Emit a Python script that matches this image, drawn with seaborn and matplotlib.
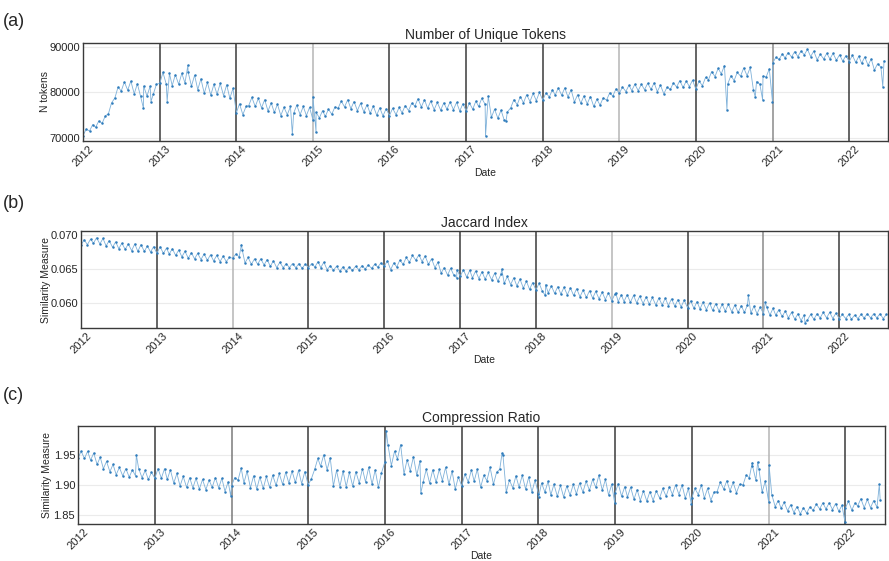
import pandas as pd
import matplotlib
matplotlib.use('Agg')
import matplotlib.pyplot as plt
import matplotlib.dates as mdates
import seaborn as sns

# valores: faixa mensal (mínimo / máximo) de cada série, jan/2012 em diante
tok_lo = [70500, 71500, 72300, 73200, 75300, 78800, 80300, 80500, 79700, 79200, 79200, 79600,
          82000, 81800, 81500, 81800, 82100, 81400, 80600, 79800, 79400, 79600, 79300, 78700,
          75500, 75100, 77100, 76900, 76600, 75900, 75600, 74900, 75100, 75400, 75100, 74900,
          74000, 74400, 74700, 75200, 76500, 76800, 76400, 76000, 75700, 75400, 75000, 74800,
          74900, 75100, 75500, 76000, 77000, 76800, 76500, 76200, 76100, 76300, 76200, 75900,
          75900, 76300, 76900, 77400, 74500, 74300, 73900, 76600, 77300, 77700, 78000, 78200,
          78300, 79000, 79400, 79400, 79000, 77900, 77600, 77500, 76900, 77200, 78300, 79200,
          79800, 80200, 80400, 80400, 80600, 80700, 80200, 79700, 80700, 81200, 81100, 81300,
          80700, 81500, 82800, 83500, 84100, 81900, 82600, 83600, 83700, 80600, 81800, 83400,
          86500, 87300, 87600, 87800, 87900, 88300, 87900, 87200, 87400, 87400, 87100, 86900,
          86800, 86600, 86400, 86000, 84900, 85600]
tok_hi = [71900, 72900, 73700, 74800, 77700, 81200, 82300, 82500, 81900, 81400, 81400, 81800,
          84400, 84200, 83900, 84200, 84500, 83800, 83000, 82200, 81800, 82000, 81700, 80900,
          77500, 76900, 78900, 78700, 78400, 77700, 77400, 76700, 76900, 77200, 76900, 76700,
          75600, 76000, 76300, 76800, 78100, 78400, 78000, 77600, 77300, 77000, 76600, 76400,
          76500, 76700, 77100, 77600, 78600, 78400, 78100, 77800, 77700, 77900, 77800, 77500,
          77700, 78100, 78700, 79200, 76300, 76100, 75700, 78400, 79100, 79500, 79800, 80000,
          79900, 80600, 81000, 81000, 80600, 79500, 79200, 79100, 78500, 78800, 79900, 80800,
          81200, 81600, 81800, 81800, 82000, 82100, 81600, 81100, 82100, 82600, 82500, 82700,
          82500, 83300, 84600, 85300, 85900, 83700, 84400, 85400, 85500, 82400, 83600, 85200,
          87700, 88500, 88800, 89000, 89100, 89500, 89100, 88400, 88600, 88600, 88300, 88100,
          88200, 88000, 87800, 87400, 86300, 87000]
tok_out_dates = ['2012-10-15', '2012-11-20', '2013-02-05', '2013-05-15', '2014-09-25', '2015-01-01',
                 '2015-01-16', '2017-04-03', '2017-07-10', '2020-05-28', '2020-10-10', '2020-11-14',
                 '2020-12-31', '2022-06-10']
tok_out_vals = [76500, 78000, 78000, 86000, 70800, 79100, 71200, 70400, 73800, 76200, 79000, 78400,
                78000, 81300]

jac_lo = [0.0685, 0.0686, 0.0688, 0.0687, 0.0684, 0.0682, 0.0680, 0.0679, 0.0677, 0.0676, 0.0676, 0.0675,
          0.0673, 0.0673, 0.0672, 0.0670, 0.0668, 0.0666, 0.0665, 0.0664, 0.0663, 0.0662, 0.0661, 0.0661,
          0.0666, 0.0668, 0.0659, 0.0657, 0.0657, 0.0656, 0.0654, 0.0652, 0.0652, 0.0652, 0.0652, 0.0651,
          0.0652, 0.0653, 0.0652, 0.0649, 0.0648, 0.0647, 0.0647, 0.0648, 0.0649, 0.0650, 0.0651, 0.0653,
          0.0654, 0.0649, 0.0653, 0.0657, 0.0660, 0.0663, 0.0661, 0.0657, 0.0652, 0.0644, 0.0641, 0.0641,
          0.0639, 0.0638, 0.0637, 0.0636, 0.0635, 0.0634, 0.0632, 0.0629, 0.0627, 0.0625, 0.0622, 0.0620,
          0.0619, 0.0617, 0.0615, 0.0614, 0.0613, 0.0612, 0.0611, 0.0609, 0.0608, 0.0607, 0.0606, 0.0605,
          0.0603, 0.0602, 0.0602, 0.0601, 0.0600, 0.0599, 0.0598, 0.0597, 0.0597, 0.0596, 0.0595, 0.0594,
          0.0593, 0.0592, 0.0591, 0.0590, 0.0589, 0.0588, 0.0588, 0.0587, 0.0586, 0.0586, 0.0585, 0.0584,
          0.0584, 0.0582, 0.0582, 0.0580, 0.0578, 0.0576, 0.0574, 0.0575, 0.0576, 0.0578, 0.0578, 0.0577,
          0.0577, 0.0577, 0.0576, 0.0577, 0.0578, 0.0578, 0.0578, 0.0577]
jac_hi = [0.0693, 0.0694, 0.0696, 0.0695, 0.0692, 0.0690, 0.0688, 0.0687, 0.0687, 0.0686, 0.0684, 0.0683,
          0.0683, 0.0681, 0.0680, 0.0678, 0.0676, 0.0674, 0.0673, 0.0672, 0.0671, 0.0670, 0.0669, 0.0667,
          0.0672, 0.0678, 0.0667, 0.0665, 0.0665, 0.0664, 0.0662, 0.0660, 0.0658, 0.0658, 0.0658, 0.0657,
          0.0658, 0.0661, 0.0660, 0.0655, 0.0654, 0.0653, 0.0653, 0.0654, 0.0655, 0.0656, 0.0657, 0.0659,
          0.0662, 0.0659, 0.0663, 0.0667, 0.0670, 0.0671, 0.0669, 0.0665, 0.0660, 0.0652, 0.0651, 0.0649,
          0.0649, 0.0648, 0.0647, 0.0646, 0.0645, 0.0644, 0.0642, 0.0639, 0.0637, 0.0635, 0.0632, 0.0630,
          0.0629, 0.0627, 0.0625, 0.0624, 0.0623, 0.0622, 0.0621, 0.0619, 0.0618, 0.0617, 0.0616, 0.0615,
          0.0613, 0.0612, 0.0612, 0.0611, 0.0610, 0.0609, 0.0608, 0.0607, 0.0607, 0.0606, 0.0605, 0.0604,
          0.0603, 0.0602, 0.0601, 0.0600, 0.0599, 0.0598, 0.0598, 0.0597, 0.0596, 0.0597, 0.0595, 0.0594,
          0.0594, 0.0592, 0.0590, 0.0588, 0.0586, 0.0584, 0.0582, 0.0583, 0.0584, 0.0586, 0.0586, 0.0585,
          0.0583, 0.0583, 0.0582, 0.0583, 0.0584, 0.0584, 0.0584, 0.0583]
jac_out_dates = ['2014-02-12', '2016-12-15', '2017-07-20', '2018-02-15', '2019-01-20', '2020-10-20',
                 '2021-01-10', '2021-07-20']
jac_out_vals = [0.0686, 0.0637, 0.0650, 0.0611, 0.0615, 0.0611, 0.0601, 0.0571]

comp_lo = [1.944, 1.944, 1.941, 1.934, 1.927, 1.922, 1.917, 1.915, 1.913, 1.915, 1.912, 1.909,
           1.911, 1.911, 1.909, 1.903, 1.898, 1.896, 1.895, 1.893, 1.892, 1.896, 1.895, 1.889,
           1.898, 1.908, 1.903, 1.895, 1.893, 1.894, 1.896, 1.899, 1.901, 1.903, 1.904, 1.902,
           1.900, 1.926, 1.931, 1.925, 1.898, 1.897, 1.897, 1.898, 1.903, 1.905, 1.901, 1.896,
           1.938, 1.932, 1.943, 1.918, 1.923, 1.916, 1.904, 1.903, 1.904, 1.907, 1.901, 1.893,
           1.898, 1.905, 1.906, 1.896, 1.907, 1.901, 1.926, 1.888, 1.895, 1.896, 1.893, 1.888,
           1.885, 1.888, 1.883, 1.881, 1.880, 1.883, 1.885, 1.888, 1.891, 1.896, 1.891, 1.883,
           1.886, 1.881, 1.880, 1.876, 1.874, 1.873, 1.874, 1.878, 1.881, 1.884, 1.884, 1.878,
           1.878, 1.884, 1.878, 1.874, 1.889, 1.893, 1.890, 1.887, 1.900, 1.912, 1.908, 1.888,
           1.872, 1.864, 1.861, 1.857, 1.854, 1.852, 1.853, 1.858, 1.860, 1.860, 1.859, 1.856,
           1.861, 1.858, 1.865, 1.862, 1.862, 1.863]
comp_hi = [1.956, 1.956, 1.953, 1.946, 1.939, 1.934, 1.929, 1.927, 1.925, 1.927, 1.924, 1.921,
           1.927, 1.927, 1.925, 1.919, 1.914, 1.912, 1.911, 1.909, 1.908, 1.912, 1.911, 1.905,
           1.912, 1.928, 1.923, 1.915, 1.913, 1.914, 1.916, 1.919, 1.921, 1.923, 1.924, 1.922,
           1.910, 1.944, 1.950, 1.945, 1.924, 1.923, 1.921, 1.922, 1.927, 1.929, 1.925, 1.920,
           1.966, 1.956, 1.967, 1.942, 1.947, 1.940, 1.926, 1.925, 1.926, 1.929, 1.923, 1.913,
           1.918, 1.925, 1.926, 1.916, 1.929, 1.921, 1.950, 1.908, 1.915, 1.916, 1.913, 1.908,
           1.903, 1.906, 1.901, 1.899, 1.898, 1.901, 1.903, 1.906, 1.909, 1.916, 1.909, 1.901,
           1.902, 1.897, 1.896, 1.892, 1.890, 1.889, 1.890, 1.894, 1.897, 1.900, 1.900, 1.894,
           1.894, 1.900, 1.894, 1.888, 1.905, 1.907, 1.904, 1.901, 1.916, 1.932, 1.926, 1.906,
           1.884, 1.874, 1.871, 1.867, 1.864, 1.862, 1.863, 1.868, 1.870, 1.870, 1.869, 1.866,
           1.873, 1.870, 1.877, 1.876, 1.874, 1.875]
comp_out_dates = ['2012-10-05', '2013-12-28', '2016-01-08', '2016-06-20', '2017-07-12', '2018-01-02',
                  '2018-12-30', '2019-12-30', '2020-10-15', '2020-11-10', '2021-01-03', '2021-12-30',
                  '2022-06-12']
comp_out_vals = [1.950, 1.882, 1.989, 1.886, 1.953, 1.880, 1.870, 1.868, 1.937, 1.938, 1.933, 1.839,
                 1.901]


def monta(lo, hi, out_d, out_v):
    meses = pd.date_range('2012-01-01', periods=len(lo), freq='MS')
    datas = list(meses) + list(meses + pd.Timedelta(days=15)) + list(pd.to_datetime(out_d))
    valores = list(lo) + list(hi) + list(out_v)
    return pd.DataFrame({'Date': datas, 'valor': valores}).sort_values('Date')


sns.set_theme(style='white')
plt.rcParams['font.family'] = ['Liberation Sans', 'DejaVu Sans']
plt.rcParams['xtick.major.pad'] = 2
plt.rcParams['ytick.major.pad'] = 2
plt.rcParams['xtick.major.size'] = 0
plt.rcParams['ytick.major.size'] = 0

fig = plt.figure(figsize=(8.89, 5.61), dpi=100)

paineis = [
    # rotulo, titulo, ylabel, dados, posicao, xlim fim, ylim, yticks, formato, anos claros, y do rotulo, x do ylabel
    ('(a)', 'Number of Unique Tokens', 'N tokens', monta(tok_lo, tok_hi, tok_out_dates, tok_out_vals),
     [0.0934, 0.7487, 0.9055, 0.1747], '2022-07-05', (69300, 90900), [70000, 80000, 90000], '{:.0f}',
     {2015: '#b5b5b5', 2019: '#b5b5b5', 2021: '#8a8a8a'}, 13, -0.041),
    ('(b)', 'Jaccard Index', 'Similarity Measure', monta(jac_lo, jac_hi, jac_out_dates, jac_out_vals),
     [0.0911, 0.4153, 0.9078, 0.1729], '2022-08-24', (0.0563, 0.0706), [0.060, 0.065, 0.070], '{:.3f}',
     {2014: '#b5b5b5', 2019: '#b5b5b5', 2021: '#8a8a8a'}, 195, -0.037),
    ('(c)', 'Compression Ratio', 'Similarity Measure', monta(comp_lo, comp_hi, comp_out_dates, comp_out_vals),
     [0.0877, 0.0660, 0.9078, 0.1747], '2022-07-09', (1.835, 1.998), [1.85, 1.90, 1.95], '{:.2f}',
     {2014: '#7a7a7a', 2021: '#b5b5b5'}, 387, -0.032),
]

for rotulo, titulo, ylab, df, pos, xfim, ylim, yticks, fmt, claros, ytxt, ylx in paineis:
    ax = fig.add_axes(pos)
    sns.lineplot(data=df, x='Date', y='valor', ax=ax, estimator=None, sort=True,
                 color='#7fb1d9', lw=0.6, marker='o', markersize=1.8,
                 markerfacecolor='#2f7cbc', markeredgecolor='#2f7cbc', markeredgewidth=0)
    ax.set_xlim(pd.Timestamp('2012-01-01'), pd.Timestamp(xfim))
    ax.set_ylim(*ylim)
    ax.set_yticks(yticks)
    ax.set_yticklabels([fmt.format(v) for v in yticks], fontsize=8)
    for v in yticks:
        ax.axhline(v, color='#ebebeb', lw=0.8, zorder=0)
    for ano in range(2013, 2023):
        ax.axvline(pd.Timestamp(f'{ano}-01-01'), color=claros.get(ano, '#3a3a3a'), lw=1.1, zorder=1)
    ax.xaxis.set_major_locator(mdates.YearLocator())
    ax.xaxis.set_major_formatter(mdates.DateFormatter('%Y'))
    plt.setp(ax.get_xticklabels(), rotation=45, ha='center', fontsize=8)
    ax.set_xlabel('Date', fontsize=7.5, labelpad=0)
    ax.set_ylabel(ylab, fontsize=7.5)
    ax.yaxis.set_label_coords(ylx, 0.5)
    ax.set_title(titulo, fontsize=10, pad=3)
    for s in ax.spines.values():
        s.set_color('#3a3a3a')
        s.set_linewidth(1.0)
    fig.text(3 / 889, 1 - ytxt / 561, rotulo, fontsize=13, va='top', ha='left')

plt.savefig('out.png', dpi=100)
